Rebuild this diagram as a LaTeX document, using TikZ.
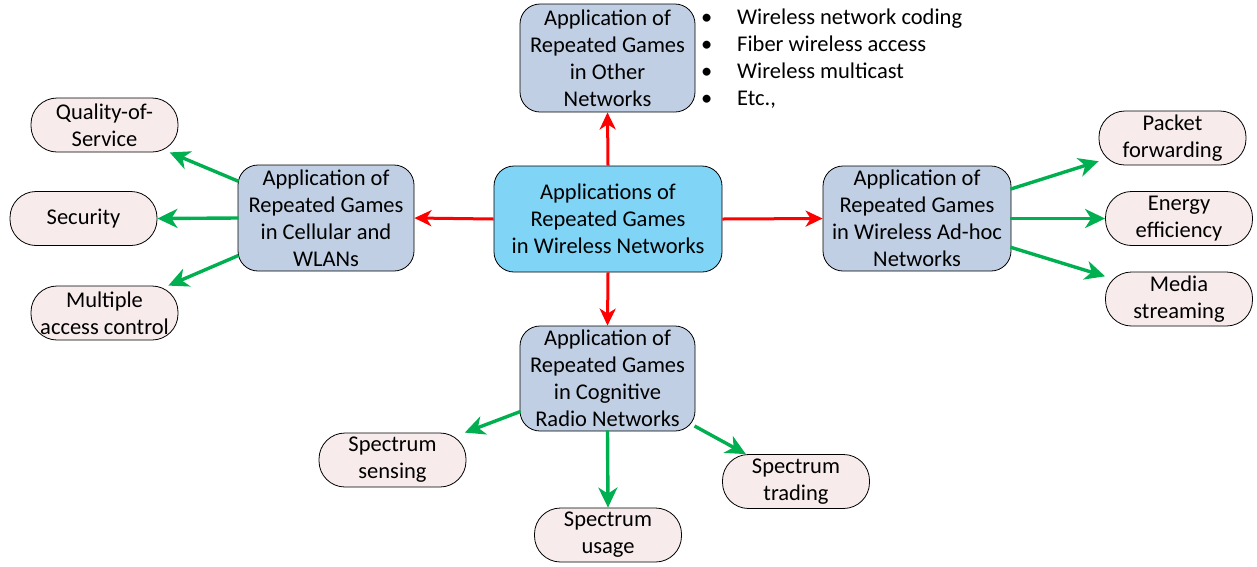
\documentclass[tikz,border=0pt]{standalone}
\usepackage{fontspec}
\setmainfont{Carlito}
\usetikzlibrary{arrows.meta}
\definecolor{centerblue}{RGB}{128,212,246}
\definecolor{parentblue}{RGB}{192,207,227}
\definecolor{leafpink}{RGB}{247,235,235}
\definecolor{arrowgreen}{RGB}{0,176,80}
\definecolor{arrowred}{RGB}{255,0,0}
\tikzset{
  txt/.style={font=\fontsize{22.5}{27}\selectfont, align=center, inner sep=0pt},
  hub/.style={txt, draw=black, line width=0.8pt, rounded corners=20pt, fill=centerblue, minimum width=228pt, minimum height=106pt},
  parent/.style={txt, draw=black, line width=0.8pt, rounded corners=20pt, fill=parentblue, minimum height=106pt},
  leaf/.style={txt, draw=black, line width=0.8pt, rounded corners=26pt, fill=leafpink, minimum width=147pt, minimum height=54pt},
  redarrow/.style={draw=arrowred, line width=3pt, -{Stealth[length=17pt,width=16pt,inset=5pt]}},
  greenarrow/.style={draw=arrowgreen, line width=3.4pt, -{Stealth[length=20pt,width=19pt,inset=6pt]}, shorten <=-1pt},
  bullettxt/.style={font=\fontsize{22.5}{27}\selectfont, inner sep=0pt, anchor=base west}
}
\begin{document}
\begin{tikzpicture}[x=1pt,y=-1pt]
\useasboundingbox (0,0) rectangle (1257,566);
% hub and parents
\node[hub] (hub) at (608,219) {Applications of\\Repeated Games\\in Wireless Networks};
\node[parent, minimum width=175pt, minimum height=108pt] (top) at (607.5,58) {Application of\\Repeated Games\\in Other\\Networks};
\node[parent, minimum width=176pt] (left) at (326,218) {Application of\\Repeated Games\\in Cellular and\\WLANs};
\node[parent, minimum width=188pt, minimum height=105pt] (right) at (917,218.5) {Application of\\Repeated Games\\in Wireless Ad-hoc\\Networks};
\node[parent, minimum width=175pt, minimum height=105pt] (bottom) at (607.5,378.5) {Application of\\Repeated Games\\in Cognitive\\Radio Networks};
% leaves
\node[leaf] (qos) at (104.5,125) {Quality-of-\\Service};
\node[leaf] (sec) at (83.5,218.5) {Security};
\node[leaf] (mac) at (104.5,313) {Multiple\\access control};
\node[leaf] (pkt) at (1172.5,138) {Packet\\forwarding};
\node[leaf] (eng) at (1179,218.5) {Energy\\efficiency};
\node[leaf] (med) at (1179,299) {Media\\streaming};
\node[leaf] (sens) at (392.5,460) {Spectrum\\sensing};
\node[leaf] (usage) at (608,535) {Spectrum\\usage};
\node[leaf] (trade) at (796,481.5) {Spectrum\\trading};
% bullet list
\node[bullettxt] (b1) at (701,24.5) {\textbullet};
\node[bullettxt] (l1) at (737,24.5) {Wireless network coding};
\node[bullettxt] (b2) at (701,51.5) {\textbullet};
\node[bullettxt] (l2) at (737,51.5) {Fiber wireless access};
\node[bullettxt] (b3) at (701,78.5) {\textbullet};
\node[bullettxt] (l3) at (737,78.5) {Wireless multicast};
\node[bullettxt] (b4) at (701,105.5) {\textbullet};
\node[bullettxt] (l4) at (737,105.5) {Etc.,};
% red arrows
\draw[redarrow] (hub.north) -- (top.south);
\draw[redarrow] (hub.west) -- (left.east);
\draw[redarrow] (hub.east) -- (right.west);
\draw[redarrow] (hub.south) -- (bottom.north);
% green arrows
\draw[greenarrow] (left) -- (qos);
\draw[greenarrow] (left.west) -- (sec.east);
\draw[greenarrow] (left) -- (mac);
\draw[greenarrow] (right) -- (pkt);
\draw[greenarrow] (right.east) -- (eng.west);
\draw[greenarrow] (right) -- (med);
\draw[greenarrow] (bottom) -- (sens);
\draw[greenarrow] (bottom.south) -- (usage.north);
\draw[greenarrow] (bottom) -- (trade);
\end{tikzpicture}
\end{document}
